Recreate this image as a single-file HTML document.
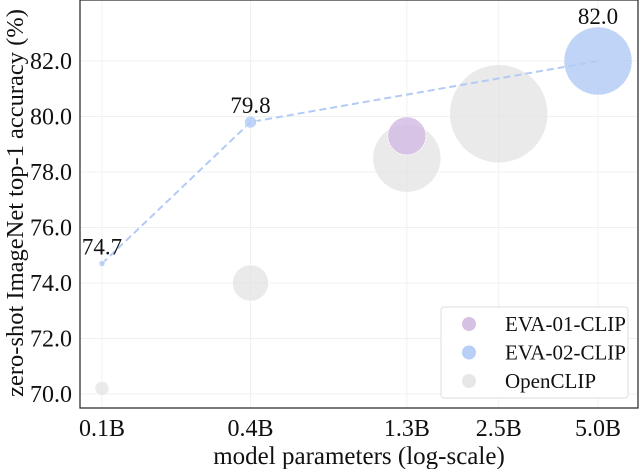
<!DOCTYPE html>
<html><head><meta charset="utf-8"><style>
body{margin:0;background:#fff}
svg text{font-family:"Liberation Serif",serif;fill:#111}
</style></head><body>
<svg id="chart" width="640" height="469" viewBox="0 0 640 469">
</svg>
<script>
const xTicks=[0.1,0.4,1.3,2.5,5.0];
const xTickLabels=["0.1B","0.4B","1.3B","2.5B","5.0B"];
const yTicks=[70,72,74,76,78,80,82];
const openParams=[0.1,0.4,1.3,2.5];
const openAcc=[70.2,74.0,78.5,80.1];
const openSize=[7,18,34,49];
const eva01Params=[1.3];
const eva01Acc=[79.3];
const eva01Size=[19];
const eva02Params=[0.1,0.4,5.0];
const eva02Acc=[74.7,79.8,82.0];
const eva02Size=[3,6,34];
const eva02Labels=["74.7","79.8","82.0"];

const L=80,R=638,T=0,B=408;
const lx=v=>Math.log10(v+0.07);
const X=v=>102+(lx(v)-lx(0.1))/(lx(5.0)-lx(0.1))*496;
const Y=v=>394-(v-70)*27.75;
const svg=document.getElementById('chart');
const NS='http://www.w3.org/2000/svg';
function mk(tag,attrs,parent){const e=document.createElementNS(NS,tag);for(const k in attrs)e.setAttribute(k,attrs[k]);(parent||svg).appendChild(e);return e;}

yTicks.forEach(t=>{const l=mk('line',{x1:L,x2:R,y1:Y(t),y2:Y(t),stroke:'#f0f0f0','stroke-width':1});

});
xTicks.forEach(t=>{const l=mk('line',{x1:X(t),x2:X(t),y1:T,y2:B,stroke:'#f0f0f0','stroke-width':1});

});

function bubbles(ps,as,ss,fill,name){ps.forEach((p,i)=>{const c=mk('circle',{cx:X(p),cy:Y(as[i]),r:ss[i],fill:fill,stroke:'#fff','stroke-width':0.8,'stroke-dasharray':'2 1'});

});}
bubbles(openParams,openAcc,openSize,'rgba(225,225,225,0.7)','openclip-bubble');
bubbles(eva01Params,eva01Acc,eva01Size,'rgba(210,185,225,0.8)','eva01-clip-bubble');
const pts=eva02Params.map((p,i)=>X(p)+','+Y(eva02Acc[i])).join(' ');
const pl=mk('polyline',{points:pts,fill:'none',stroke:'#b3cbf5','stroke-width':2,'stroke-dasharray':'7 4'});


bubbles(eva02Params,eva02Acc,eva02Size,'rgba(180,204,245,0.85)','eva02-clip-bubble');
eva02Params.forEach((p,i)=>{const t=mk('text',{x:X(p),y:Y(eva02Acc[i])-(i==2?37:9),'text-anchor':'middle','font-size':23});t.textContent=eva02Labels[i];

});

const fr=mk('rect',{x:L,y:T,width:R-L,height:B-T,fill:'none',stroke:'#333','stroke-width':1.3});


yTicks.forEach(t=>{const e=mk('text',{x:72,y:Y(t)+8,'text-anchor':'end','font-size':24});e.textContent=t.toFixed(1);

});
xTicks.forEach((t,i)=>{const e=mk('text',{x:X(t),y:436,'text-anchor':'middle','font-size':24});e.textContent=xTickLabels[i];

});
const xt=mk('text',{x:359,y:464,'text-anchor':'middle','font-size':25});xt.textContent='model parameters (log-scale)';


const yt=mk('text',{x:0,y:0,'text-anchor':'middle','font-size':24.5,transform:'translate(23,203) rotate(-90)'});yt.textContent='zero-shot ImageNet top-1 accuracy (%)';



const lg=mk('g',{});


mk('rect',{x:441,y:307,width:187,height:91,rx:3,fill:'#fff',stroke:'#ddd','stroke-width':1},lg);
const legNames=['EVA-01-CLIP','EVA-02-CLIP','OpenCLIP'];
const legCols=['rgba(210,185,225,0.9)','rgba(180,204,245,0.95)','rgba(225,225,225,0.8)'];
legNames.forEach((n,i)=>{const g=mk('g',{},lg);


mk('circle',{cx:469,cy:324+i*28.5,r:7,fill:legCols[i]},g);
const t=mk('text',{x:505,y:331+i*28.5,'font-size':21},g);t.textContent=n;});
</script>
</body></html>
